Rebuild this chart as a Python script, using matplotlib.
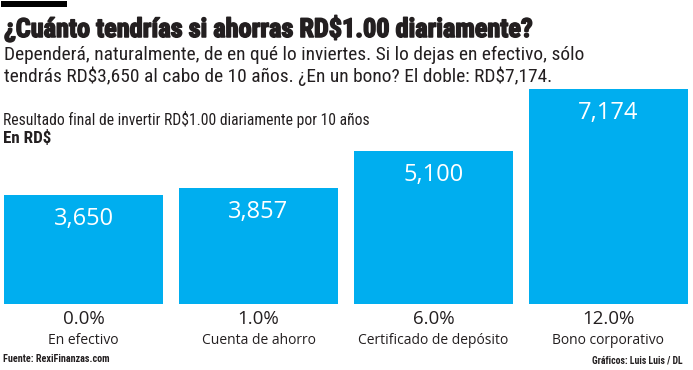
import matplotlib
matplotlib.use("Agg")
import matplotlib.pyplot as plt
from matplotlib import font_manager as fm
from matplotlib.patches import Rectangle
import matplotlib.patheffects as pe

# ---------------- data ----------------
categories = ["En efectivo", "Cuenta de ahorro", "Certificado de depósito", "Bono corporativo"]
rates = ["0.0%", "1.0%", "6.0%", "12.0%"]
values = [3650, 3857, 5100, 7174]
value_labels = ["3,650", "3,857", "5,100", "7,174"]

title = "¿Cuánto tendrías si ahorras RD$1.00 diariamente?"
subtitle_lines = [
    "Dependerá, naturalmente, de en qué lo inviertes. Si lo dejas en efectivo, sólo",
    "tendrás RD$3,650 al cabo de 10 años. ¿En un bono? El doble: RD$7,174.",
]
chart_note = "Resultado final de invertir RD$1.00 diariamente por 10 años"
unit_label = "En RD$"
source = "Fuente: RexiFinanzas.com"
credit = "Gráficos: Luis Luis / DL"

# ---------------- style ----------------
W, H, DPI = 693, 370, 100
BAR = "#00aeef"
INK = "#231f20"

avail = {f.name for f in fm.fontManager.ttflist}
def pick(*names):
    for n in names:
        if n in avail:
            return n
    return "DejaVu Sans"

NARROW = pick("Liberation Sans Narrow", "Roboto Condensed", "Open Sans Condensed", "Liberation Sans")
HUMAN = pick("Open Sans", "Lato", "Noto Sans", "DejaVu Sans")

fig = plt.figure(figsize=(W / DPI, H / DPI), dpi=DPI)
fig.patch.set_facecolor("white")
renderer = fig.canvas.get_renderer()

def put(x_px, y_px, s, size, family, weight="normal", ha="left", target_w=None, color=INK, **kw):
    t = fig.text(x_px / W, 1 - y_px / H, s, ha=ha, va="baseline", fontsize=size,
                 family=family, weight=weight, color=color, parse_math=False, **kw)
    if target_w:
        w = t.get_window_extent(renderer).width
        t.set_fontsize(size * target_w / w)
    return t

# black accent bar
fig.patches.append(Rectangle((1 / W, 1 - 7 / H), 66 / W, 6 / H, transform=fig.transFigure,
                             facecolor="black", edgecolor="none"))

put(4, 37, title, 17, NARROW, weight="bold", target_w=529,
    path_effects=[pe.withStroke(linewidth=1.1, foreground=INK)])
put(4, 60, subtitle_lines[0], 13, NARROW, target_w=578)
put(4, 82, subtitle_lines[1], 13, NARROW, target_w=546)
put(3, 125, chart_note, 10, NARROW, target_w=364)
put(3, 143, unit_label, 10, NARROW, weight="bold", target_w=48)
put(3, 362, source, 8, NARROW, weight="bold", target_w=107)
put(683, 363, credit, 8, NARROW, weight="bold", ha="right", target_w=91)

# ---------------- bars ----------------
ax = fig.add_axes([4 / W, (H - 304) / H, 684 / W, 215 / H])
x = list(range(len(values)))
width = 0.911
ax.bar(x, values, width=width, color=BAR, edgecolor="none")
ax.set_xlim(-width / 2, len(values) - 1 + width / 2)
ax.set_ylim(0, max(values))
ax.axis("off")

for i, (v, lab, r, c) in enumerate(zip(values, value_labels, rates, categories)):
    ax.annotate(lab, (i, v), xytext=(0, -30), textcoords="offset pixels", ha="center",
                va="baseline", color="white", fontsize=17, family=HUMAN,
                annotation_clip=False)
    ax.annotate(r, (i, 0), xytext=(0, -19.5), textcoords="offset pixels", ha="center",
                va="baseline", color=INK, fontsize=13.5, family=HUMAN,
                annotation_clip=False)
    ax.annotate(c, (i, 0), xytext=(0, -40), textcoords="offset pixels", ha="center",
                va="baseline", color=INK, fontsize=10, family=HUMAN,
                annotation_clip=False)

fig.savefig("out.png", dpi=DPI, facecolor="white")
